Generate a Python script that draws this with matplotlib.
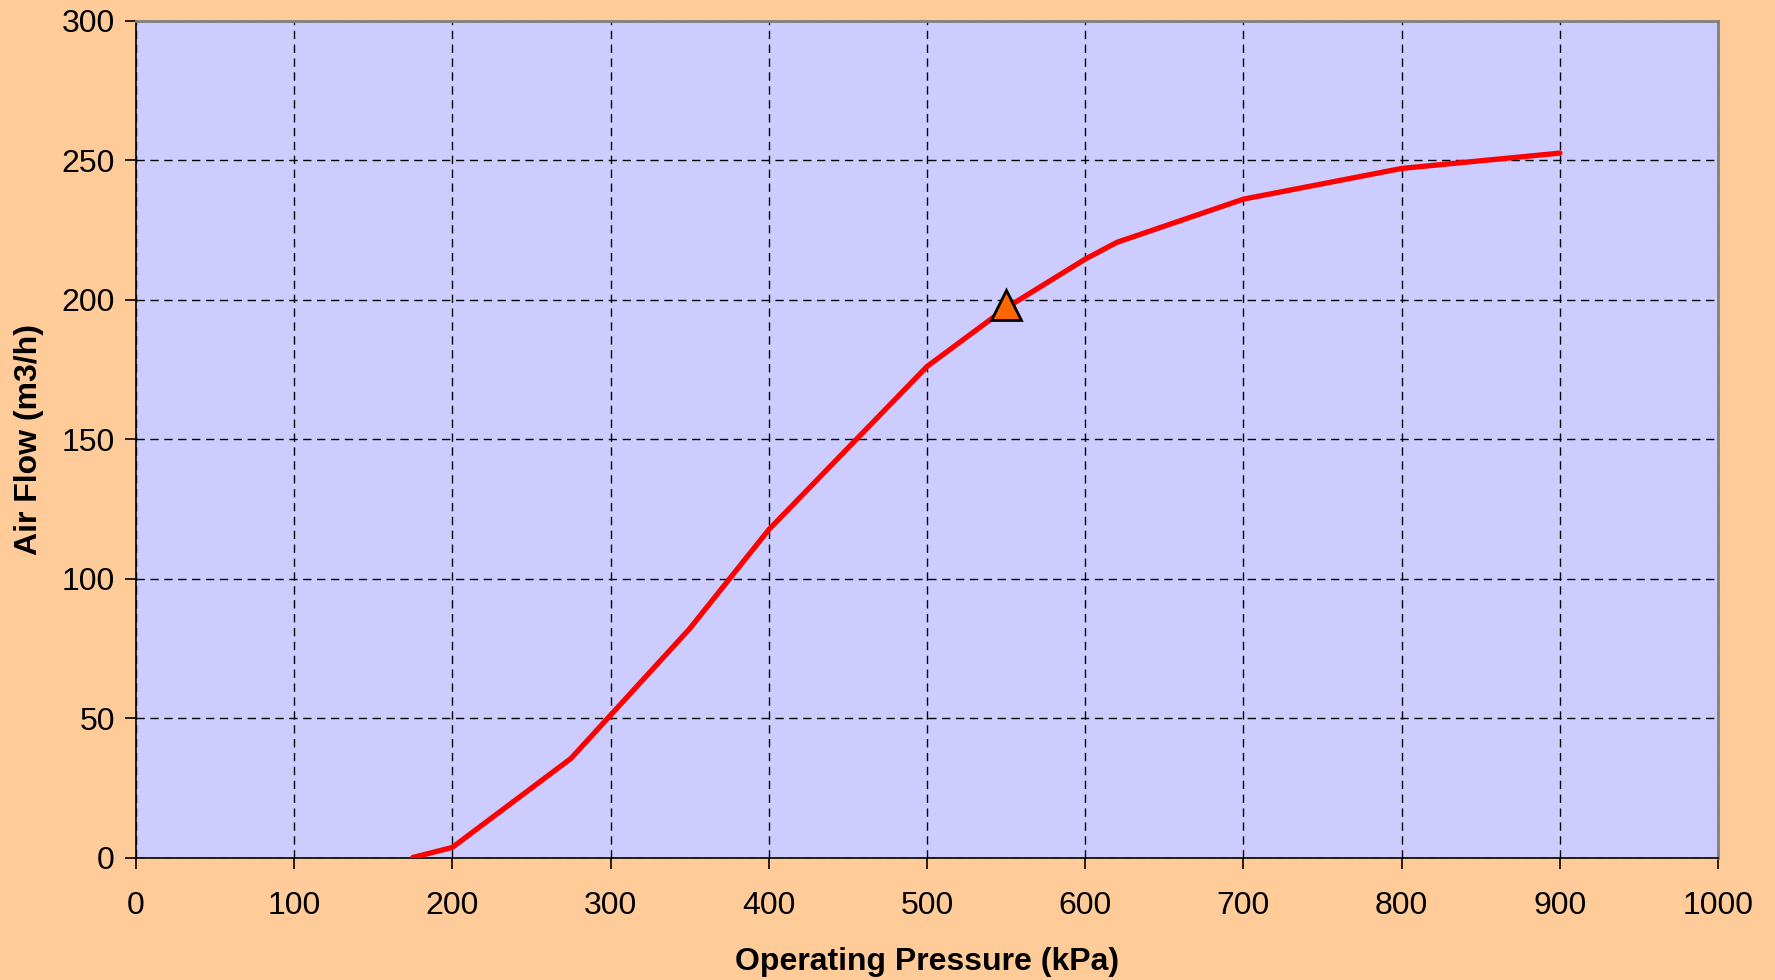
"""Air flow vs operating pressure curve, with the operating point marked."""
import numpy as np
from matplotlib import pyplot as plt

# curve
pressure_kpa = [175, 200, 275, 350, 400, 500, 550, 600, 620, 700, 800, 900]
air_flow_m3h = [0, 3.6, 35.5, 82, 117.5, 176, 197, 214.5, 220.5, 236, 247, 252.5]

# operating point
op_pressure = [550]
op_flow = [198]

x_ticks = np.arange(0, 1001, 100)
y_ticks = np.arange(0, 301, 50)

plt.rcParams['font.family'] = ['Liberation Sans', 'DejaVu Sans']

fig = plt.figure(figsize=(17.75, 9.8), dpi=100, facecolor='#FFCC99')
ax = fig.add_axes([0.0765, 0.125, 0.8915, 0.854])
ax.set_facecolor('#CCCCFF')

ax.plot(pressure_kpa, air_flow_m3h, color='#FF0000', lw=3.8, solid_capstyle='round', zorder=3)
ax.plot(op_pressure, op_flow, marker='^', ms=22, mfc='#FF6600', mec='black', mew=2,
        ls='none', zorder=4)

ax.set_xlim(0, 1000)
ax.set_ylim(0, 300)
ax.set_xticks(x_ticks)
ax.set_yticks(y_ticks)
ax.grid(True, color='black', linestyle=(0, (6, 4)), linewidth=1)
ax.set_axisbelow(True)

ax.tick_params(axis='both', direction='out', length=8, width=1.2, labelsize=23, pad=7)
ax.tick_params(axis='x', pad=16)
for side in ['left', 'bottom']:
    ax.spines[side].set_color('black')
    ax.spines[side].set_linewidth(1.2)
for side in ['top', 'right']:
    ax.spines[side].set_color('#808080')
    ax.spines[side].set_linewidth(2)

ax.set_xlabel('Operating Pressure (kPa)', fontsize=23, fontweight='bold', labelpad=19)
ax.set_ylabel('Air Flow (m3/h)', fontsize=23, fontweight='bold', labelpad=13)

fig.savefig('out.png', facecolor=fig.get_facecolor())
